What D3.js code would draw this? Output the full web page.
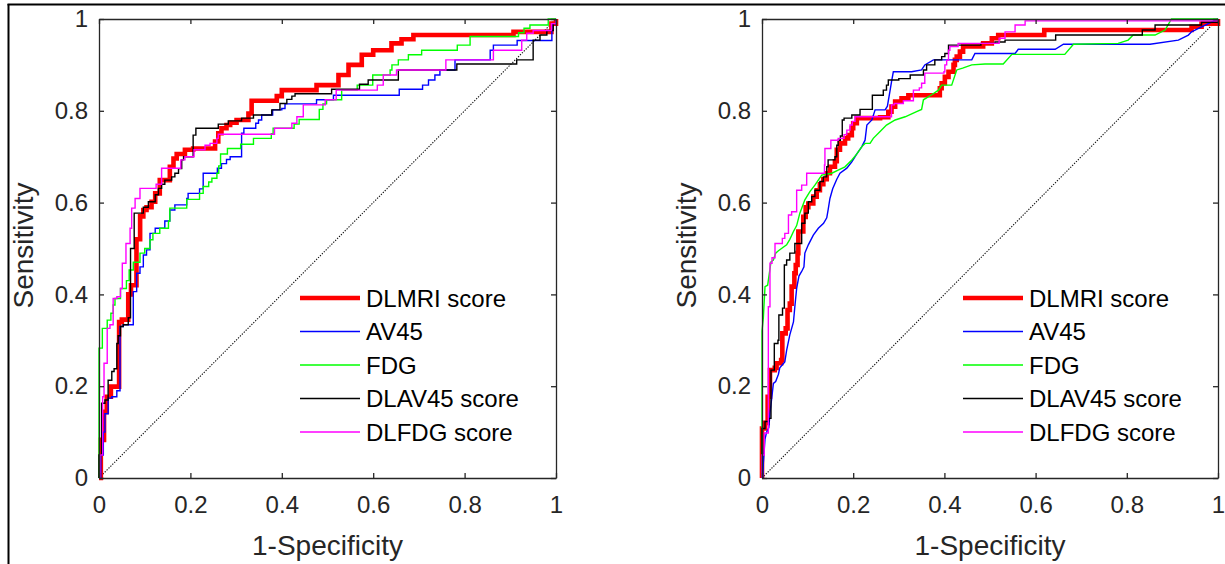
<!DOCTYPE html>
<html>
<head>
<meta charset="utf-8">
<script src="https://cdn.jsdelivr.net/npm/d3@7"></script>
<style>
  body { margin: 0; background: #fff; }
  svg { display: block; }
  text { font-family: "Liberation Sans", Arial, Helvetica, sans-serif; }
</style>
</head>
<body>
<svg id="chart" width="1225" height="564"></svg>
<script>
// Axis ticks shared by both panels
const tickValues = [0, 0.2, 0.4, 0.6, 0.8, 1];
const tickLabels = ["0", "0.2", "0.4", "0.6", "0.8", "1"];

// Legend entries (same order as drawing order)
const seriesNames = ["DLMRI score", "AV45", "FDG", "DLAV45 score", "DLFDG score"];
const seriesColors = ["#ff0000", "#0000ff", "#00ff00", "#000000", "#ff00ff"];

// ROC points [1-specificity, sensitivity]; for stepped curves each point is
// the false-positive rate where sensitivity rises, and the new sensitivity.
const leftDLMRI = [[0,0],[0.004,0.083],[0.011,0.144],[0.017,0.177],[0.026,0.199],[0.044,0.34],[0.05,0.345],[0.064,0.40],[0.07,0.42],[0.082,0.52],[0.09,0.57],[0.097,0.584],[0.104,0.59],[0.115,0.602],[0.123,0.62],[0.133,0.649],[0.155,0.678],[0.163,0.696],[0.17,0.706],[0.188,0.715],[0.206,0.718],[0.254,0.733],[0.261,0.751],[0.268,0.762],[0.279,0.769],[0.287,0.774],[0.301,0.78],[0.327,0.794],[0.334,0.822],[0.389,0.832],[0.40,0.845],[0.476,0.856],[0.524,0.878],[0.546,0.9],[0.575,0.922],[0.60,0.932],[0.64,0.947],[0.662,0.956],[0.688,0.965],[0.907,0.972],[0.99,0.99],[1,1]];
const leftAV45 = [[0,0],[0.004,0.05],[0.0095,0.10],[0.013,0.14],[0.020,0.174],[0.028,0.177],[0.039,0.19],[0.046,0.33],[0.053,0.334],[0.075,0.406],[0.0824,0.446],[0.0897,0.46],[0.097,0.486],[0.104,0.497],[0.1116,0.533],[0.123,0.544],[0.144,0.56],[0.155,0.584],[0.166,0.595],[0.192,0.609],[0.195,0.62],[0.22,0.63],[0.228,0.664],[0.259,0.675],[0.268,0.685],[0.279,0.694],[0.287,0.70],[0.312,0.751],[0.317,0.762],[0.343,0.773],[0.349,0.78],[0.356,0.791],[0.38,0.802],[0.40,0.805],[0.407,0.815],[0.476,0.824],[0.513,0.834],[0.657,0.847],[0.708,0.856],[0.721,0.867],[0.735,0.878],[0.746,0.889],[0.779,0.911],[0.856,0.932],[0.863,0.943],[0.915,0.953],[0.991,0.99],[1,1]];
const leftFDG = [[0,0],[0,0.283],[0.0073,0.326],[0.018,0.344],[0.026,0.359],[0.031,0.377],[0.035,0.391],[0.047,0.413],[0.06,0.43],[0.066,0.453],[0.075,0.47],[0.0897,0.49],[0.1,0.50],[0.1116,0.519],[0.118,0.533],[0.133,0.544],[0.152,0.56],[0.155,0.588],[0.192,0.607],[0.22,0.62],[0.228,0.635],[0.24,0.645],[0.247,0.653],[0.258,0.664],[0.262,0.68],[0.266,0.706],[0.281,0.718],[0.31,0.727],[0.338,0.74],[0.377,0.75],[0.381,0.762],[0.427,0.771],[0.438,0.781],[0.482,0.803],[0.49,0.815],[0.498,0.824],[0.531,0.845],[0.565,0.856],[0.599,0.878],[0.637,0.889],[0.641,0.9],[0.655,0.911],[0.677,0.922],[0.706,0.932],[0.784,0.943],[0.812,0.962],[0.918,0.97],[0.93,0.98],[0.943,0.987],[0.983,1],[1,1]];
const leftDLAV45 = [[0,0],[0,0.05],[0.0058,0.163],[0.013,0.17],[0.02,0.213],[0.028,0.232],[0.033,0.238],[0.039,0.293],[0.042,0.31],[0.047,0.33],[0.053,0.334],[0.064,0.349],[0.069,0.50],[0.077,0.577],[0.097,0.59],[0.108,0.602],[0.123,0.617],[0.13,0.631],[0.137,0.64],[0.144,0.649],[0.159,0.656],[0.166,0.664],[0.174,0.674],[0.181,0.693],[0.185,0.70],[0.206,0.747],[0.212,0.762],[0.261,0.771],[0.283,0.778],[0.312,0.784],[0.338,0.791],[0.378,0.802],[0.396,0.816],[0.411,0.825],[0.422,0.832],[0.429,0.837],[0.509,0.847],[0.57,0.858],[0.589,0.867],[0.655,0.889],[0.783,0.902],[0.914,0.911],[0.95,0.954],[0.965,0.965],[0.98,0.975],[0.994,0.99],[1,1]];
const leftDLFDG = [[0,0],[0.002,0.05],[0.008,0.177],[0.011,0.25],[0.018,0.326],[0.024,0.334],[0.031,0.391],[0.039,0.395],[0.047,0.413],[0.051,0.468],[0.059,0.511],[0.068,0.544],[0.0715,0.588],[0.079,0.609],[0.0897,0.631],[0.125,0.64],[0.137,0.675],[0.179,0.693],[0.188,0.70],[0.208,0.715],[0.232,0.725],[0.243,0.729],[0.258,0.74],[0.261,0.749],[0.384,0.762],[0.422,0.773],[0.433,0.787],[0.447,0.813],[0.495,0.824],[0.519,0.845],[0.609,0.856],[0.622,0.878],[0.651,0.889],[0.759,0.911],[0.863,0.932],[0.925,0.954],[0.936,0.969],[0.95,0.975],[0.99,0.99],[1,1]];

const rightDLMRI = [[0,0],[0,0.108],[0.0066,0.12],[0.0124,0.177],[0.0175,0.235],[0.028,0.24],[0.032,0.25],[0.042,0.257],[0.0446,0.315],[0.052,0.326],[0.056,0.366],[0.061,0.38],[0.065,0.417],[0.071,0.446],[0.074,0.464],[0.078,0.49],[0.0797,0.537],[0.0906,0.569],[0.0958,0.59],[0.1016,0.598],[0.1125,0.613],[0.12,0.627],[0.127,0.64],[0.1345,0.651],[0.142,0.664],[0.149,0.678],[0.16,0.69],[0.164,0.715],[0.171,0.729],[0.182,0.74],[0.189,0.747],[0.197,0.762],[0.2,0.773],[0.208,0.784],[0.259,0.786],[0.277,0.798],[0.284,0.809],[0.292,0.82],[0.306,0.827],[0.321,0.834],[0.39,0.849],[0.394,0.86],[0.401,0.874],[0.409,0.885],[0.42,0.9],[0.423,0.911],[0.427,0.918],[0.434,0.929],[0.441,0.94],[0.485,0.947],[0.504,0.958],[0.518,0.965],[0.619,0.976],[0.942,0.983],[0.964,0.99],[1,1]];
const rightAV45 = [[0,0],[0.002,0],[0.003,0.033],[0.0066,0.085],[0.0102,0.10],[0.015,0.11],[0.0175,0.141],[0.0197,0.16],[0.025,0.206],[0.03,0.21],[0.036,0.226],[0.039,0.24],[0.05,0.253],[0.054,0.278],[0.061,0.312],[0.069,0.34],[0.072,0.373],[0.076,0.413],[0.081,0.44],[0.087,0.45],[0.092,0.46],[0.094,0.49],[0.1016,0.508],[0.1125,0.529],[0.1235,0.544],[0.135,0.555],[0.142,0.567],[0.145,0.584],[0.149,0.609],[0.155,0.63],[0.164,0.651],[0.171,0.664],[0.186,0.675],[0.197,0.689],[0.208,0.706],[0.219,0.722],[0.226,0.736],[0.23,0.769],[0.241,0.78],[0.248,0.802],[0.27,0.802],[0.275,0.81],[0.281,0.845],[0.284,0.863],[0.288,0.885],[0.328,0.885],[0.35,0.889],[0.357,0.9],[0.376,0.911],[0.46,0.911],[0.467,0.925],[0.555,0.925],[0.562,0.934],[0.643,0.934],[0.661,0.945],[0.851,0.945],[0.913,0.954],[0.935,0.965],[0.942,0.972],[0.964,0.983],[1,1]];
const rightFDG = [[0,0],[0,0.32],[0.003,0.35],[0.0066,0.417],[0.0124,0.42],[0.0197,0.471],[0.025,0.475],[0.03,0.49],[0.036,0.495],[0.054,0.508],[0.061,0.52],[0.069,0.537],[0.076,0.55],[0.083,0.577],[0.094,0.606],[0.105,0.624],[0.116,0.638],[0.131,0.66],[0.153,0.664],[0.167,0.671],[0.182,0.678],[0.197,0.693],[0.208,0.706],[0.219,0.722],[0.226,0.729],[0.237,0.729],[0.244,0.74],[0.259,0.755],[0.273,0.769],[0.292,0.78],[0.314,0.787],[0.339,0.798],[0.35,0.803],[0.354,0.824],[0.372,0.835],[0.387,0.845],[0.394,0.856],[0.416,0.856],[0.427,0.889],[0.44,0.893],[0.46,0.9],[0.489,0.902],[0.529,0.902],[0.548,0.923],[0.664,0.923],[0.683,0.945],[0.781,0.947],[0.803,0.954],[0.814,0.965],[0.862,0.965],[0.884,0.976],[0.898,1],[1,1]];
const rightDLAV45 = [[0,0],[0,0.108],[0.0066,0.123],[0.015,0.13],[0.0197,0.235],[0.027,0.293],[0.035,0.30],[0.037,0.355],[0.045,0.37],[0.049,0.464],[0.054,0.475],[0.061,0.49],[0.072,0.511],[0.087,0.555],[0.094,0.577],[0.1016,0.602],[0.109,0.613],[0.116,0.627],[0.127,0.646],[0.1345,0.656],[0.142,0.678],[0.145,0.693],[0.16,0.70],[0.164,0.725],[0.167,0.736],[0.172,0.745],[0.176,0.78],[0.18,0.784],[0.197,0.791],[0.215,0.803],[0.242,0.834],[0.266,0.845],[0.273,0.856],[0.277,0.867],[0.3,0.87],[0.325,0.878],[0.354,0.889],[0.361,0.9],[0.379,0.911],[0.394,0.918],[0.401,0.925],[0.409,0.943],[0.48,0.947],[0.511,0.95],[0.533,0.954],[0.644,0.965],[0.834,0.976],[0.862,0.987],[0.964,0.993],[1,1]];
const rightDLFDG = [[0,0],[0,0.05],[0.005,0.098],[0.0139,0.373],[0.0175,0.468],[0.022,0.48],[0.0285,0.511],[0.0446,0.522],[0.05,0.533],[0.058,0.573],[0.065,0.58],[0.076,0.627],[0.087,0.638],[0.098,0.664],[0.137,0.682],[0.138,0.718],[0.151,0.736],[0.167,0.74],[0.18,0.748],[0.186,0.758],[0.193,0.769],[0.198,0.777],[0.204,0.787],[0.284,0.813],[0.29,0.816],[0.31,0.822],[0.332,0.845],[0.345,0.85],[0.35,0.86],[0.357,0.882],[0.399,0.885],[0.401,0.9],[0.405,0.91],[0.409,0.932],[0.412,0.94],[0.43,0.947],[0.52,0.958],[0.533,0.972],[0.555,0.987],[0.577,0.996],[1,1]];

// Panel layout and per-curve interpolation
const panels = [
  { left: 99, right: 556, top: 19, bottom: 478, legendX: 300,
    curves: [leftDLMRI, leftAV45, leftFDG, leftDLAV45, leftDLFDG],
    shapes: ["step", "step", "step", "step", "step"] },
  { left: 762, right: 1218, top: 19, bottom: 478, legendX: 963,
    curves: [rightDLMRI, rightAV45, rightFDG, rightDLAV45, rightDLFDG],
    shapes: ["step", "linear", "linear", "step", "step"] }
];

const widths = [4.6, 1.4, 1.4, 1.4, 1.4];
const axisColor = "#262626";

const svg = d3.select("#chart");
svg.append("rect").attr("width", 1225).attr("height", 564).attr("fill", "#fff");

// Outer frame (left and top edges)
svg.append("line").attr("x1", 8.5).attr("y1", 4).attr("x2", 8.5).attr("y2", 564)
  .attr("stroke", "#000").attr("stroke-width", 2);
svg.append("line").attr("x1", 7.5).attr("y1", 4.5).attr("x2", 1225).attr("y2", 4.5)
  .attr("stroke", "#000").attr("stroke-width", 2);

panels.forEach(p => {
  const x = d3.scaleLinear().domain([0, 1]).range([p.left, p.right]);
  const y = d3.scaleLinear().domain([0, 1]).range([p.bottom, p.top]);
  const g = svg.append("g");

  // chance diagonal
  g.append("line")
    .attr("x1", x(0)).attr("y1", y(0)).attr("x2", x(1)).attr("y2", y(1))
    .attr("stroke", "#111").attr("stroke-width", 1.1).attr("stroke-dasharray", "1.3,1.4");

  // ROC curves
  p.curves.forEach((pts, i) => {
    const line = d3.line()
      .x(d => x(d[0])).y(d => y(d[1]))
      .curve(p.shapes[i] === "step" ? d3.curveStepAfter : d3.curveLinear);
    g.append("path").datum(pts)
      .attr("d", line)
      .attr("fill", "none")
      .attr("stroke", seriesColors[i])
      .attr("stroke-width", widths[i])
      .attr("stroke-linejoin", "miter");
  });

  // Axes with inward ticks on all four sides
  const tick = 5;
  const axB = d3.axisBottom(x).tickValues(tickValues).tickSizeInner(-tick).tickSizeOuter(0)
    .tickFormat((d, i) => tickLabels[i]).tickPadding(18);
  const axT = d3.axisTop(x).tickValues(tickValues).tickSizeInner(-tick).tickSizeOuter(0).tickFormat("");
  const axL = d3.axisLeft(y).tickValues(tickValues).tickSizeInner(-tick).tickSizeOuter(0)
    .tickFormat((d, i) => tickLabels[i]).tickPadding(11);
  const axR = d3.axisRight(y).tickValues(tickValues).tickSizeInner(-tick).tickSizeOuter(0).tickFormat("");

  const styleAxis = sel => {
    sel.selectAll("path").attr("stroke", axisColor).attr("stroke-width", 1.3);
    sel.selectAll("line").attr("stroke", axisColor).attr("stroke-width", 1.3);
    sel.selectAll("text").attr("fill", axisColor).attr("font-size", 24)
      .attr("font-family", "'Liberation Sans', Arial, sans-serif");
  };
  g.append("g").attr("transform", `translate(0,${p.bottom})`).call(axB).call(styleAxis);
  g.append("g").attr("transform", `translate(0,${p.top})`).call(axT).call(styleAxis);
  g.append("g").attr("transform", `translate(${p.left},0)`).call(axL).call(styleAxis);
  g.append("g").attr("transform", `translate(${p.right},0)`).call(axR).call(styleAxis);

  // Axis titles
  g.append("text")
    .attr("x", (p.left + p.right) / 2).attr("y", 555)
    .attr("text-anchor", "middle").attr("font-size", 28).attr("fill", axisColor)
    .text("1-Specificity");
  g.append("text")
    .attr("transform", `translate(${p.left - 66},${(p.top + p.bottom) / 2 - 3}) rotate(-90)`)
    .attr("text-anchor", "middle").attr("font-size", 28).attr("fill", axisColor)
    .text("Sensitivity");

  // Legend (no box)
  const rowY = d3.scalePoint().domain(seriesNames).range([298, 432]);
  seriesNames.forEach((name, i) => {
    const yy = rowY(name);
    g.append("line")
      .attr("x1", p.legendX).attr("x2", p.legendX + 60)
      .attr("y1", yy).attr("y2", yy)
      .attr("stroke", seriesColors[i]).attr("stroke-width", widths[i]);
    g.append("text")
      .attr("x", p.legendX + 66).attr("y", yy)
      .attr("dy", "0.36em")
      .attr("font-size", 24).attr("fill", "#000")
      .text(name);
  });
});
</script>
</body>
</html>
